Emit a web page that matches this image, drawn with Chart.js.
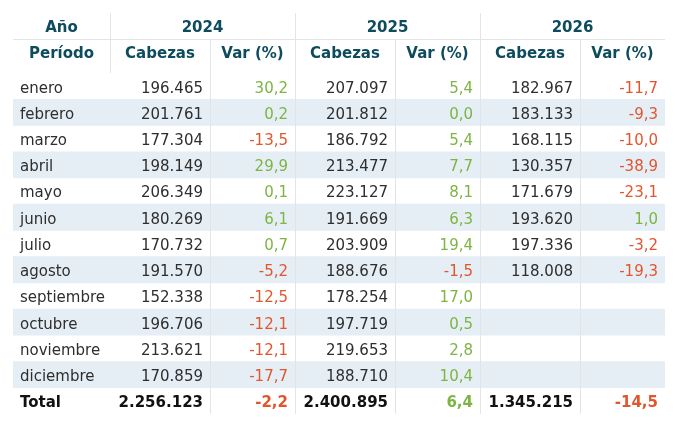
<!DOCTYPE html>
<html>
<head>
<meta charset="utf-8">
<script src="https://cdn.jsdelivr.net/npm/chart.js@4.4.1/dist/chart.umd.min.js"></script>
<style>
html,body{margin:0;padding:0;background:#fff;}
canvas{display:block;}
</style>
</head>
<body>
<canvas id="c" width="675" height="427"></canvas>
<script>
// ---------- DATA ----------
const months = ['enero','febrero','marzo','abril','mayo','junio','julio','agosto','septiembre','octubre','noviembre','diciembre'];
const years = ['2024','2025','2026'];
const cab2024 = [196465,201761,177304,198149,206349,180269,170732,191570,152338,196706,213621,170859];
const var2024 = [30.2,0.2,-13.5,29.9,0.1,6.1,0.7,-5.2,-12.5,-12.1,-12.1,-17.7];
const cab2025 = [207097,201812,186792,213477,223127,191669,203909,188676,178254,197719,219653,188710];
const var2025 = [5.4,0.0,5.4,7.7,8.1,6.3,19.4,-1.5,17.0,0.5,2.8,10.4];
const cab2026 = [182967,183133,168115,130357,171679,193620,197336,118008,null,null,null,null];
const var2026 = [-11.7,-9.3,-10.0,-38.9,-23.1,1.0,-3.2,-19.3,null,null,null,null];
const totalCab = [2256123,2400895,1345215];
const totalVar = [-2.2,6.4,-14.5];
const headerTop = ['Año'];
const headerSub = ['Período','Cabezas','Var (%)'];
const totalLabel = 'Total';

// ---------- LAYOUT / STYLE ----------
const colWidths = [97,100,85,100,85,100,85];
const edges = colWidths.reduce((a,w)=>{a.push(a[a.length-1]+w);return a;},[0]);
const tableWidth = edges[edges.length-1];
const head1H = 26.5, head2H = 33.6;
const FONT = '"DejaVu Sans", Verdana, sans-serif';
const C = {head:'#0e4b5e', text:'#2e2e2e', total:'#111111', green:'#7db443', red:'#e2562d', stripe:'#e5eef5', line:'#e2e4e6'};

const rowLabels = months.concat([totalLabel]);
const stripes = rowLabels.map((_,i)=> (i%2===1 && i<months.length) ? [0,tableWidth] : null);

function fmtInt(n){
  return String(n).replace(/\B(?=(\d{3})+(?!\d))/g,'.');
}
function fmtPct(v){
  const s = Math.abs(v).toFixed(1).replace('.',',');
  return (v<0?'-':'')+s;
}
const pctColor = v => v<0 ? C.red : C.green;

const tablePlugin = {
  id:'tablePlugin',
  afterDatasetsDraw(chart){
    const ctx = chart.ctx, xs = chart.scales.x, ys = chart.scales.y;
    const top = chart.chartArea.top, bottom = chart.chartArea.bottom;
    const X = v => xs.getPixelForValue(v);
    const t0 = top - head2H - head1H, t1 = top - head2H;
    ctx.save();
    // lines
    ctx.strokeStyle = C.line; ctx.lineWidth = 1;
    const vline = (x,y0,y1)=>{ctx.beginPath();ctx.moveTo(Math.round(x)+0.5,y0);ctx.lineTo(Math.round(x)+0.5,y1);ctx.stroke();};
    vline(X(edges[1]), t0, top);
    [2,4,6].forEach(i=>vline(X(edges[i]), t1, bottom));
    [3,5].forEach(i=>vline(X(edges[i]), t0, bottom));
    ctx.beginPath(); ctx.moveTo(X(0), Math.round(t1)+0.5); ctx.lineTo(X(tableWidth), Math.round(t1)+0.5); ctx.stroke();

    ctx.textBaseline = 'middle';
    // header row 1
    ctx.font = 'bold 15px '+FONT; ctx.fillStyle = C.head; ctx.textAlign = 'center';
    const y1 = t0 + head1H/2 + 2;
    ctx.fillText(headerTop[0], (X(edges[0])+X(edges[1]))/2, y1);
    years.forEach((yr,k)=>{
      ctx.fillText(yr, (X(edges[1+2*k])+X(edges[3+2*k]))/2, y1);
    });
    // header row 2
    const y2 = t1 + 15;
    ctx.fillText(headerSub[0], (X(edges[0])+X(edges[1]))/2, y2);
    years.forEach((yr,k)=>{
      ctx.fillText(headerSub[1], (X(edges[1+2*k])+X(edges[2+2*k]))/2, y2);
      ctx.fillText(headerSub[2], (X(edges[2+2*k])+X(edges[3+2*k]))/2, y2);
    });
    // body
    const cabs = [cab2024,cab2025,cab2026], vars = [var2024,var2025,var2026];
    const padL = 7, padR = 7;
    months.forEach((m,i)=>{
      const y = ys.getPixelForValue(i) + 2.5;
      ctx.font = '15px '+FONT;
      ctx.textAlign = 'left'; ctx.fillStyle = C.text;
      ctx.fillText(m, X(edges[0])+padL, y);
      ctx.textAlign = 'right';
      for(let k=0;k<3;k++){
        if(cabs[k][i]!=null){ ctx.fillStyle = C.text; ctx.fillText(fmtInt(cabs[k][i]), X(edges[2+2*k])-padR, y); }
        if(vars[k][i]!=null){ ctx.fillStyle = pctColor(vars[k][i]); ctx.fillText(fmtPct(vars[k][i]), X(edges[3+2*k])-padR, y); }
      }
    });
    // total
    const yt = ys.getPixelForValue(months.length) + 2;
    ctx.font = 'bold 15px '+FONT;
    ctx.textAlign = 'left'; ctx.fillStyle = C.total;
    ctx.fillText(totalLabel, X(edges[0])+padL, yt);
    ctx.textAlign = 'right';
    for(let k=0;k<3;k++){
      ctx.fillStyle = C.total; ctx.fillText(fmtInt(totalCab[k]), X(edges[2+2*k])-padR, yt);
      ctx.fillStyle = pctColor(totalVar[k]); ctx.fillText(fmtPct(totalVar[k]), X(edges[3+2*k])-padR, yt);
    }
    ctx.restore();
  }
};

new Chart(document.getElementById('c'), {
  type:'bar',
  data:{
    labels: rowLabels,
    datasets:[{
      data: stripes,
      backgroundColor: C.stripe,
      borderWidth: 0,
      categoryPercentage: 1,
      barPercentage: 1
    }]
  },
  options:{
    indexAxis:'y',
    responsive:false,
    animation:false,
    events:[],
    layout:{padding:{left:13, right:10, top:73.1, bottom:13.1}},
    plugins:{legend:{display:false}, tooltip:{enabled:false}},
    scales:{
      x:{type:'linear', min:0, max:tableWidth, display:false},
      y:{type:'category', display:false, offset:true}
    }
  },
  plugins:[tablePlugin]
});
</script>
</body>
</html>
